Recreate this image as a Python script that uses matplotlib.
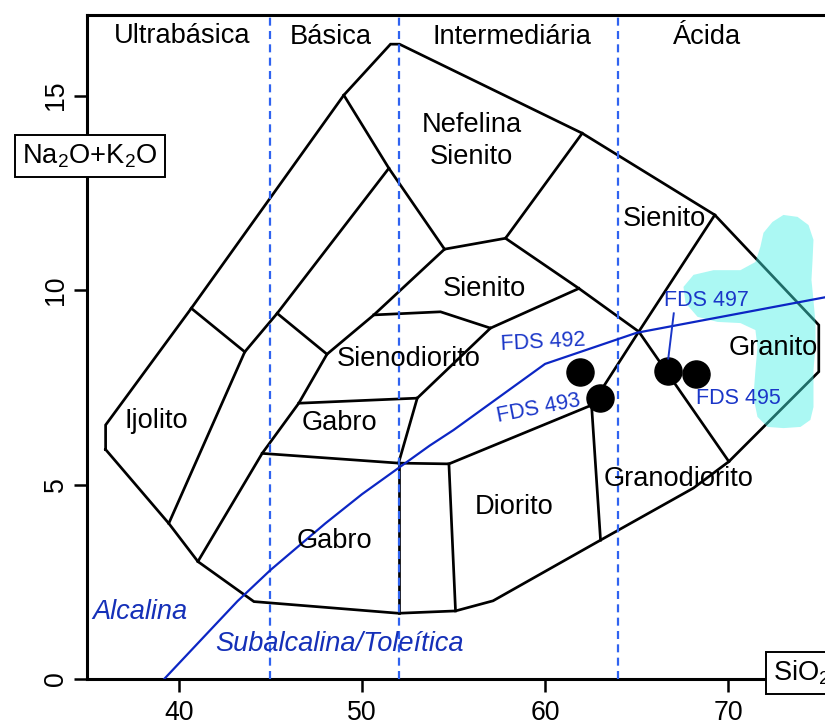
import matplotlib
matplotlib.use("Agg")
import matplotlib.pyplot as plt
from matplotlib.patches import Polygon

plt.rcParams['font.family'] = ['Liberation Sans', 'DejaVu Sans']
plt.rcParams['mathtext.fontset'] = 'custom'
plt.rcParams['mathtext.rm'] = 'Liberation Sans'
plt.rcParams['mathtext.it'] = 'Liberation Sans:italic'

# --- TAS field boundaries (SiO2 wt%, Na2O+K2O wt%) ---
outer_x = [36.00, 36.00, 40.68, 49.01, 51.56, 52.05, 62.03, 69.27, 74.95, 74.95,
           70.04, 68.11, 63.03, 57.16, 55.11, 52.00, 44.10, 41.04, 39.45, 36.00]
outer_y = [5.90, 6.53, 9.53, 15.01, 16.32, 16.32, 14.03, 11.93, 9.10, 7.90,
           5.59, 4.91, 3.57, 2.01, 1.75, 1.69, 1.99, 3.02, 4.00, 5.90]

inner_lines = [
    [(40.68, 9.53), (43.60, 8.41)],
    [(39.45, 4.00), (43.60, 8.41), (45.37, 9.40), (51.47, 13.13)],
    [(49.01, 15.01), (51.47, 13.13), (54.51, 11.05)],
    [(41.04, 3.02), (44.55, 5.80), (46.55, 7.09), (48.09, 8.35), (45.37, 9.40)],
    [(48.09, 8.35), (50.65, 9.36), (54.51, 11.05)],
    [(54.51, 11.05), (57.84, 11.33), (62.03, 14.03)],
    [(57.84, 11.33), (61.85, 10.04), (65.12, 8.93)],
    [(50.65, 9.36), (54.29, 9.44), (57.02, 9.02), (61.85, 10.04)],
    [(46.55, 7.09), (53.02, 7.22), (57.02, 9.02)],
    [(53.02, 7.22), (52.00, 5.55)],
    [(44.55, 5.80), (52.00, 5.55), (54.75, 5.53), (62.54, 7.04)],
    [(52.00, 5.55), (52.00, 1.69)],
    [(54.75, 5.53), (55.11, 1.75)],
    [(62.54, 7.04), (63.03, 3.57)],
    [(62.54, 7.04), (65.12, 8.93), (69.27, 11.93)],
    [(65.12, 8.93), (70.04, 5.59)],
]

# Alkaline / subalkaline divide
alk_x = [39.2, 40.0, 43.2, 45.0, 48.0, 50.0, 53.7, 55.0, 60.0, 65.0, 77.4]
alk_y = [0.0, 0.4, 2.0, 2.8, 4.0, 4.75, 6.0, 6.4, 8.1, 8.9, 10.0]

# Silica saturation limits
silica_limits = [45, 52, 64]

# Reference granite field
granite_x = [71.93, 72.42, 73.02, 73.79, 74.39, 74.66, 74.61, 74.55, 74.66, 74.77,
             74.77, 74.66, 74.66, 74.66, 74.49, 73.95, 73.02, 72.15, 71.60, 71.38,
             71.49, 71.60, 71.49, 70.67, 69.42, 68.33, 67.67, 67.56, 68.11, 69.20,
             70.67, 71.49, 71.76]
granite_y = [11.47, 11.75, 11.93, 11.88, 11.67, 11.29, 10.77, 10.26, 9.74, 9.15,
             8.53, 7.94, 7.43, 6.99, 6.66, 6.48, 6.45, 6.48, 6.74, 7.25,
             7.94, 8.53, 8.97, 9.15, 9.18, 9.31, 9.67, 10.08, 10.39, 10.51,
             10.51, 10.72, 11.11]

# Samples
sample_names = ["FDS 492", "FDS 493", "FDS 497", "FDS 495"]
sample_sio2 = [61.90, 62.98, 66.71, 68.22]
sample_alk = [7.90, 7.23, 7.92, 7.83]

fig = plt.figure(figsize=(8.25, 7.25), dpi=100)
ax = fig.add_axes([87.3 / 825, 46 / 725, 42 * 18.31 / 825, 664 / 725])
ax.set_xlim(35, 77)
ax.set_ylim(0, 17.07)

black_lw = 1.95
ax.plot(outer_x, outer_y, color='black', lw=black_lw, zorder=2, solid_joinstyle='miter')
for seg in inner_lines:
    xs, ys = zip(*seg)
    ax.plot(xs, ys, color='black', lw=black_lw, zorder=2, solid_joinstyle='miter')

ax.add_patch(Polygon(list(zip(granite_x, granite_y)), closed=True,
                     facecolor=(0.27, 0.94, 0.90), edgecolor='none', alpha=0.45, zorder=3,
                     joinstyle='round'))

for xv in silica_limits:
    ax.axvline(xv, color='#2f63f0', lw=1.6, ls=(0, (3.6, 2.4)), zorder=4)

ax.plot(alk_x, alk_y, color='#0c26c4', lw=1.6, zorder=5)

ax.plot(sample_sio2, sample_alk, 'o', color='black', ms=19.5, zorder=6)

lab_col = '#1a36c8'
fds = 15.5
ax.text(59.9, 8.66, sample_names[0], color=lab_col, fontsize=fds, ha='center', va='center', rotation=3, zorder=7)
ax.text(59.66, 6.96, sample_names[1], color=lab_col, fontsize=fds, ha='center', va='center', rotation=11, zorder=7)
ax.text(68.84, 9.73, sample_names[2], color=lab_col, fontsize=fds, ha='center', va='center', zorder=7)
ax.text(70.58, 7.20, sample_names[3], color=lab_col, fontsize=fds, ha='center', va='center', zorder=7)
ax.plot([67.03, 66.73], [9.40, 8.24], color=lab_col, lw=1.4, zorder=7)

fs = 19.6
region_labels = [
    ("Ultrabásica", 40.16, 16.53), ("Básica", 48.28, 16.51),
    ("Intermediária", 58.21, 16.51), ("Ácida", 68.86, 16.51),
    ("Nefelina\nSienito", 55.99, 13.83), ("Sienito", 66.49, 11.83),
    ("Sienito", 56.71, 10.03), ("Sienodiorito", 52.56, 8.23),
    ("Gabro", 48.79, 6.57), ("Ijolito", 38.77, 6.63),
    ("Gabro", 48.51, 3.55), ("Diorito", 58.30, 4.41),
    ("Granodiorito", 67.31, 5.14), ("Granito", 72.45, 8.52),
]
for txt, xv, yv in region_labels:
    ax.text(xv, yv, txt, fontsize=fs, ha='center', va='center', color='black',
            linespacing=1.3, zorder=8)

ax.text(37.87, 1.71, "Alcalina", fontsize=fs, style='italic', color='#1530b8',
        ha='center', va='center', zorder=8)
ax.text(48.79, 0.895, "Subalcalina/Toleítica", fontsize=fs, style='italic', color='#1530b8',
        ha='center', va='center', zorder=8)

for sp in ax.spines.values():
    sp.set_linewidth(2.2)
ax.set_xticks([40, 50, 60, 70])
ax.set_yticks([0, 5, 10, 15])
ax.tick_params(axis='both', direction='out', length=9.5, width=1.8, labelsize=19.2)
ax.tick_params(axis='x', pad=5.5)
ax.tick_params(axis='y', pad=4)
for lbl in ax.get_yticklabels():
    lbl.set_rotation(90)
    lbl.set_va('center')

fig.text(90 / 825, 1 - 156 / 725, r"Na$_2$O+K$_2$O", fontsize=fs, ha='center', va='center',
         bbox=dict(boxstyle='square,pad=0.28', facecolor='white', edgecolor='black', lw=1.4),
         zorder=10)
fig.text(773 / 825, 1 - 673 / 725, r"SiO$_2$", fontsize=fs, ha='left', va='center',
         bbox=dict(boxstyle='square,pad=0.24', facecolor='white', edgecolor='black', lw=1.4),
         zorder=10)

fig.savefig("out.png", dpi=100)
